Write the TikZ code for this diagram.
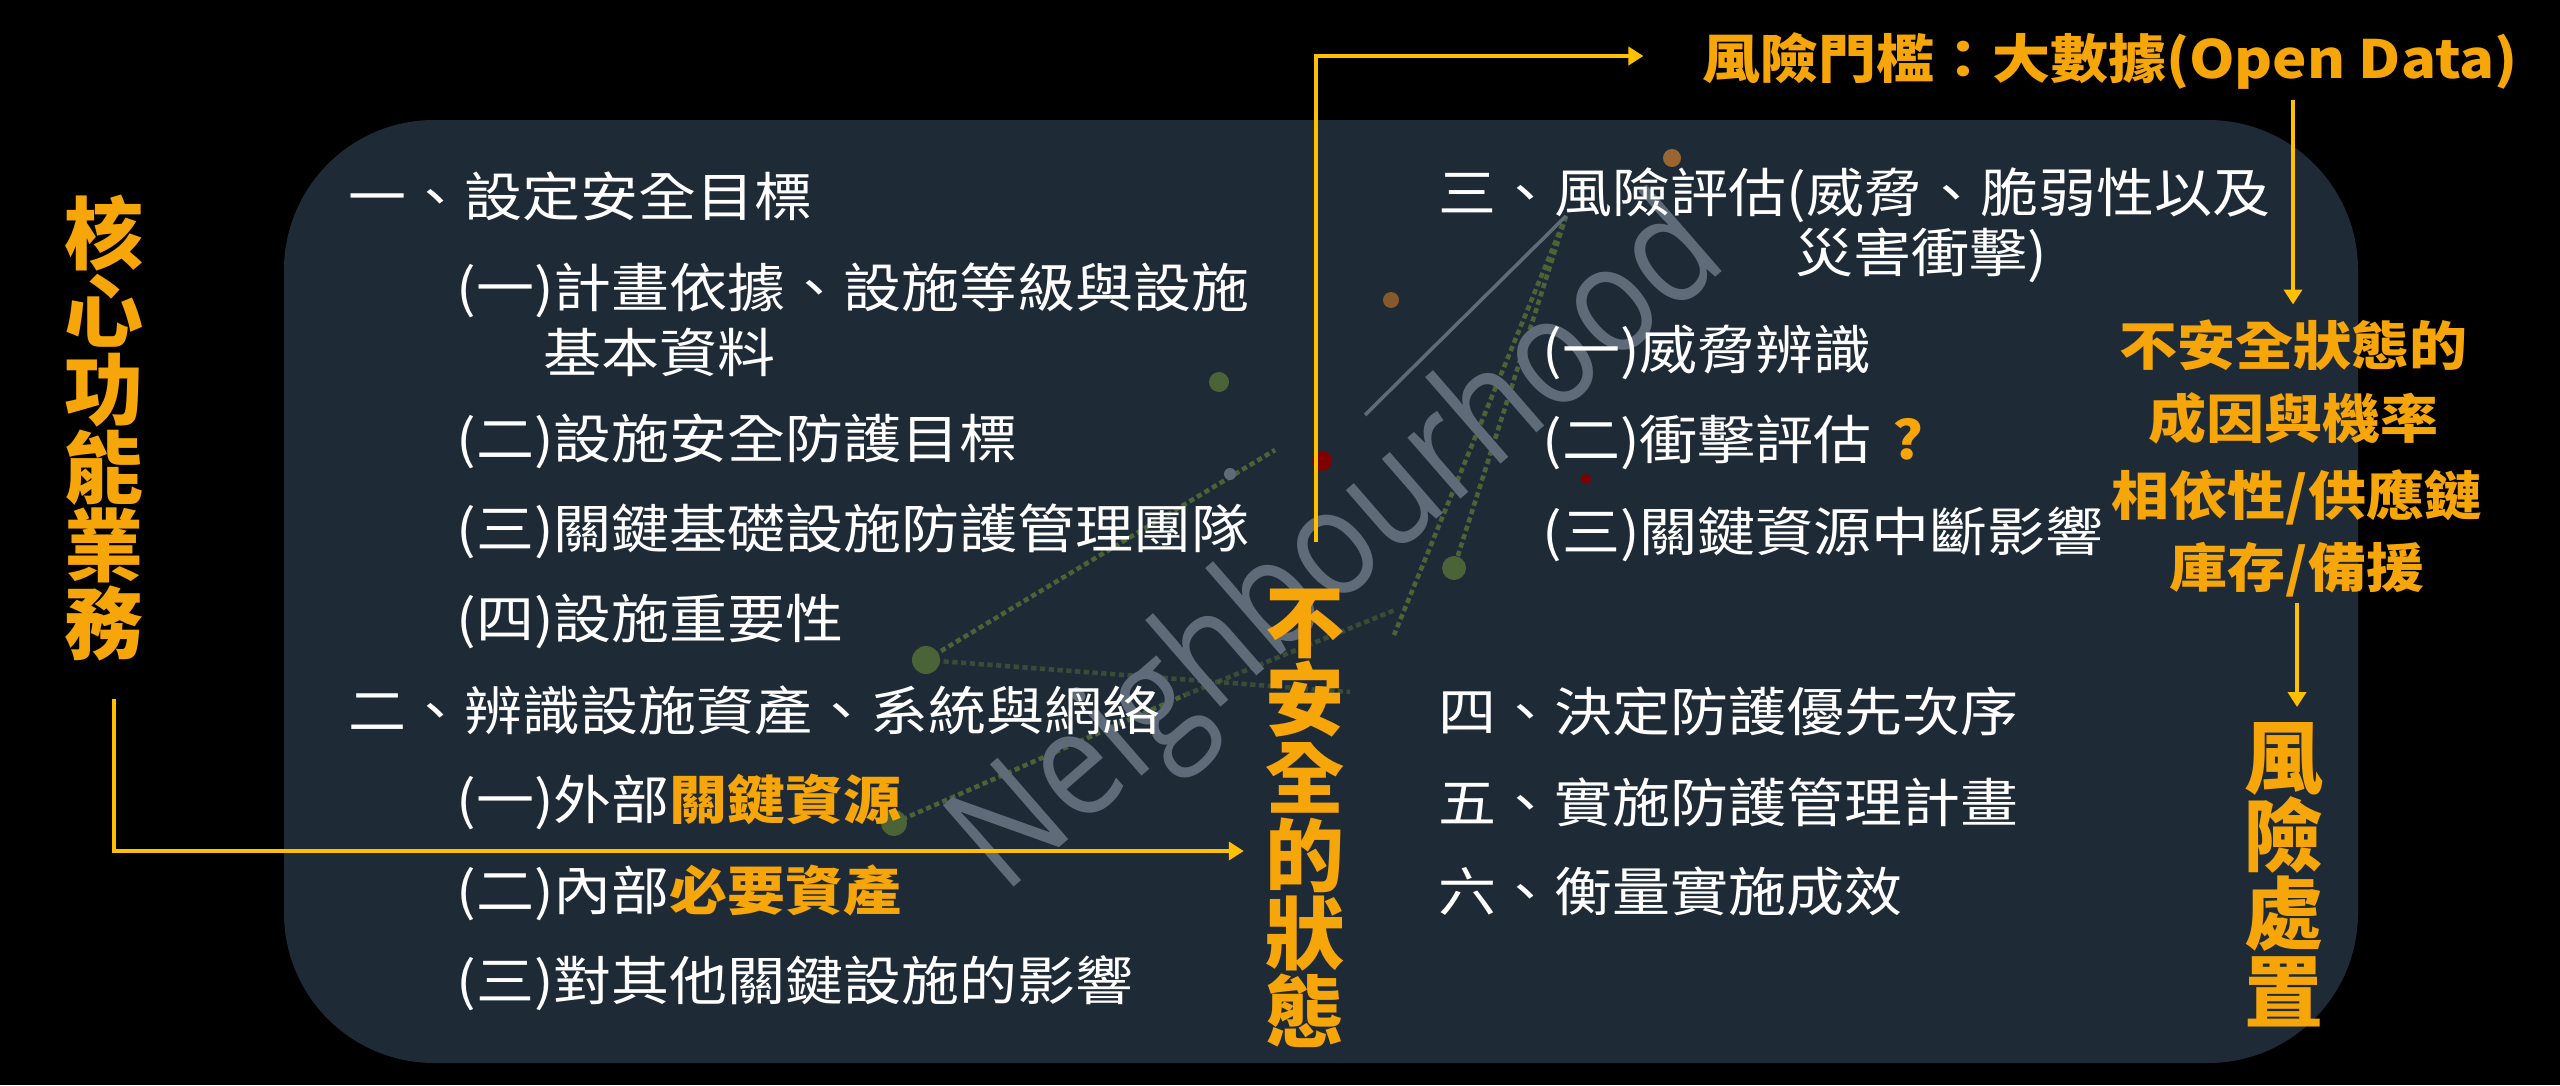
\documentclass[tikz,border=0pt]{standalone}
\usepackage{fontspec}
\newfontfamily\cjk[FakeStretch=1.1]{Noto Sans CJK TC}
\newfontfamily\cjkv{Noto Sans CJK TC}
\newfontfamily\wmfont{Open Sans}
\usetikzlibrary{positioning,arrows.meta}
\lineskiplimit=-20pt

\definecolor{slide}{RGB}{31,42,55}
\definecolor{accent}{RGB}{246,166,8}
\definecolor{flowline}{RGB}{255,192,0}
\definecolor{wmgray}{RGB}{96,107,121}
\definecolor{wmgreen}{RGB}{74,100,56}

\tikzset{
  item/.style={anchor=west, inner sep=0pt, text=white, font=\cjk\fontsize{15}{18}\selectfont},
  hint/.style={inner sep=0pt, text=accent, align=center, font=\cjk\bfseries\fontsize{15}{20.5}\selectfont},
  vlabel/.style={inner sep=0pt, text=accent, align=center,
    font=\cjkv\bfseries\fontsize{22.5}{22.2}\selectfont},
  flow/.style={draw=flowline, line width=1.2pt, ->, >={Triangle[width=1.8mm,length=1.5mm]}},
  net/.style={wmgreen, line width=1.3pt, dash pattern=on 1.5pt off 1pt},
}

\begin{document}
\begin{tikzpicture}[node distance=0.9cm]

\fill[black] (0,0) rectangle (25.6,-10.85);
\useasboundingbox (0,0) rectangle (25.6,-10.85);
\fill[slide, rounded corners=1.5cm] (2.84,-1.20) rectangle (23.58,-10.63);

% watermark
\draw[net] (9.26,-6.60) -- (12.75,-4.50);
\draw[net, opacity=0.6] (9.26,-6.60) -- (13.50,-6.92);
\draw[net] (8.94,-8.23) -- (11.85,-6.95);
\draw[net, opacity=0.6] (11.85,-6.95) -- (13.95,-6.10);
\draw[net] (15.66,-2.16) -- (14.54,-5.68);
\draw[net] (15.66,-2.16) -- (13.94,-6.35);
\draw[wmgray, line width=1pt] (15.66,-2.16) -- (13.65,-4.15);
\fill[wmgreen] (9.26,-6.60) circle (0.14);
\fill[wmgreen] (8.94,-8.23) circle (0.13);
\fill[wmgreen] (12.19,-3.82) circle (0.10);
\fill[wmgreen] (14.54,-5.68) circle (0.12);
\fill[wmgray] (12.30,-4.74) circle (0.06);
\fill[brown!70!black] (13.91,-3.00) circle (0.08);
\fill[brown!80!black] (16.72,-1.58) circle (0.09);
\fill[red!50!black] (13.22,-4.61) circle (0.10);
\fill[red!50!black] (15.86,-4.79) circle (0.05);
\node[text=wmgray, rotate=41, xscale=0.86, font=\wmfont\fontsize{43}{43}\selectfont] (mark) at (13.42,-5.50) {Neighbourhood};

% vertical labels
\node[vlabel] (core)   at (1.04,-4.28)  {核\\心\\功\\能\\業\\務};
\node[vlabel] (unsafe) at (13.05,-8.18) {不\\安\\全\\的\\狀\\態};
\node[vlabel] (treat)  at (22.84,-8.75) {風\\險\\處\\置};

% left column
\node[item] (goal) at (3.48,-1.96) {一、設定安全目標};
\node[item] (goal1)  [below=0.94cm of goal.west, xshift=1.08cm, anchor=west] {(一)計畫依據、設施等級與設施};
\node[item] (goal1b) [below=0.62cm of goal1.west, xshift=0.87cm, anchor=west] {基本資料};
\node[item] (goal2)  [below=1.51cm of goal1.west, anchor=west] {(二)設施安全防護目標};
\node[item] (goal3)  [below=of goal2.west, anchor=west] {(三)關鍵基礎設施防護管理團隊};
\node[item] (goal4)  [below=of goal3.west, anchor=west] {(四)設施重要性};
\node[item] (asset)  [below=0.89cm of goal4.west, xshift=-1.08cm, anchor=west] {二、辨識設施資產、系統與網絡};
\node[item] (asset1) [below=0.92cm of asset.west, xshift=1.08cm, anchor=west] {(一)外部\textcolor{accent}{\bfseries 關鍵資源}};
\node[item] (asset2) [below=0.91cm of asset1.west, anchor=west] {(二)內部\textcolor{accent}{\bfseries 必要資產}};
\node[item] (asset3) [below=of asset2.west, anchor=west] {(三)對其他關鍵設施的影響};

% right column
\node[item] (risk) at (14.38,-1.95) {三、風險評估(威脅、脆弱性以及};
\node[item] (risk0) [below=0.60cm of risk.west, xshift=3.57cm, anchor=west] {災害衝擊)};
\node[item] (risk1) [below=1.57cm of risk.west, xshift=1.04cm, anchor=west] {(一)威脅辨識};
\node[item] (risk2) [below=of risk1.west, anchor=west] {(二)衝擊評估\hspace{0.4em}\textcolor{accent}{\bfseries ?}};
\node[item] (risk3) [below=0.92cm of risk2.west, anchor=west] {(三)關鍵資源中斷影響};
\node[item] (prio)  [below=1.77cm of risk3.west, xshift=-1.04cm, anchor=west] {四、決定防護優先次序};
\node[item] (plan)  [below=0.91cm of prio.west, anchor=west] {五、實施防護管理計畫};
\node[item] (check) [below=0.89cm of plan.west, anchor=west] {六、衡量實施成效};

% orange notes
\node[hint] (title)  at (21.10,-0.61) {風險門檻：大數據(Open Data)};
\node[hint] (cause)  at (22.93,-3.82) {不安全狀態的\\成因與機率};
\node[hint] (depend) at (22.97,-5.33) {相依性/供應鏈\\庫存/備援};

% arrows
\draw[flow] ([xshift=1mm,yshift=-3.7mm]core.south) |- ([xshift=-2.1mm,yshift=-3.3mm]unsafe.west);
\draw[flow] ([xshift=1.1mm,yshift=4.6mm]unsafe.north) |- ([xshift=-5.8mm,yshift=0.5mm]title.west);
\draw[flow, shorten <=1mm, shorten >=1.5mm] (cause.north |- title.south) -- (cause.north);
\draw[flow, shorten <=0.6mm, shorten >=1.5mm] (depend.south) -- (depend.south |- treat.north);

\end{tikzpicture}
\end{document}
